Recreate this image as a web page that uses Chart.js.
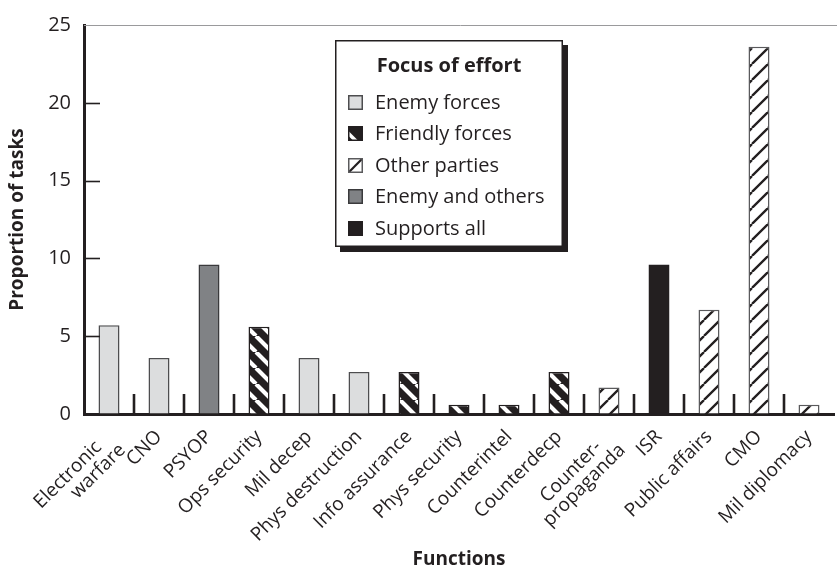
<!DOCTYPE html>
<html><head><meta charset="utf-8">
<script src="https://cdn.jsdelivr.net/npm/chart.js@4"></script>
<style>html,body{margin:0;padding:0;background:#fff}#wrap{width:837px;height:571px;position:relative}</style>
</head><body><div id="wrap"><canvas id="c"></canvas></div>
<script>
const categories = [["Electronic   ","warfare"],"CNO","PSYOP","Ops security","Mil decep","Phys destruction","Info assurance","Phys security","Counterintel","Counterdecp",["Counter-   ","propaganda"],"ISR","Public affairs","CMO","Mil diplomacy"];
const values = [5.7,3.6,9.6,5.6,3.6,2.7,2.7,0.6,0.6,2.7,1.7,9.6,6.7,23.6,0.6];
// focus group index of each function
const focus = [0,0,3,1,0,0,1,1,1,1,2,4,2,2,2];
const focusNames = ["Enemy forces","Friendly forces","Other parties","Enemy and others","Supports all"];
const legendTitle = "Focus of effort";
const yTicks = [0,5,10,15,20,25];

const INK = '#231f20';
const FONT = "'Open Sans', 'Noto Sans', sans-serif";

function hatch(bg, fg, dir, w){
  const s = 16, c = document.createElement('canvas');
  c.width = c.height = s;
  const g = c.getContext('2d');
  g.fillStyle = bg; g.fillRect(0,0,s,s);
  g.strokeStyle = fg; g.lineWidth = w; g.beginPath();
  for (let x = -s; x <= s; x += s){
    if (dir === '\\'){ g.moveTo(x,0); g.lineTo(x+s,s); }
    else { g.moveTo(x,s); g.lineTo(x+s,0); }
  }
  g.stroke();
  return g.createPattern(c,'repeat');
}
const fills = [
  '#dcddde',
  hatch(INK,'#ffffff','\\',4.2),
  hatch('#ffffff',INK,'/',2.3),
  '#808285',
  INK
];
const borders = ['#4d4d4f', INK, '#5a5a5c', '#3a3a3c', INK];

const decor = {
  id:'decor',
  afterDraw(chart){
    const {ctx, chartArea:a, scales:{x, y}} = chart;
    ctx.save();
    // top line
    ctx.strokeStyle = '#9a9a9c'; ctx.lineWidth = 1;
    ctx.beginPath(); ctx.moveTo(a.left, a.top+0.5); ctx.lineTo(chart.width, a.top+0.5); ctx.stroke();
    // inward y ticks
    ctx.strokeStyle = INK; ctx.lineWidth = 1.6;
    yTicks.forEach(v => { if (v>0 && v<25){ const py = Math.round(y.getPixelForValue(v))+0.5; ctx.beginPath(); ctx.moveTo(a.left, py); ctx.lineTo(a.left+16, py); ctx.stroke(); }});
    // category boundary ticks
    ctx.lineWidth = 2.6;
    for (let i=1;i<categories.length;i++){
      const px = (x.getPixelForValue(i-1)+x.getPixelForValue(i))/2;
      ctx.beginPath(); ctx.moveTo(px, a.bottom); ctx.lineTo(px, a.bottom-20); ctx.stroke();
    }
    // legend box
    const bx=335, by=40, bw=228, bh=207;
    ctx.fillStyle = INK; ctx.fillRect(bx+5, by+5, bw, bh);
    ctx.fillStyle = '#fff'; ctx.fillRect(bx, by, bw, bh);
    ctx.strokeStyle = INK; ctx.lineWidth = 1.5; ctx.strokeRect(bx+0.75, by+0.75, bw-1.5, bh-1.5);
    ctx.fillStyle = INK; ctx.textBaseline='middle';
    ctx.font = "bold 20px "+FONT; ctx.textAlign='center';
    ctx.fillText(legendTitle, 449, 66);
    ctx.font = "20px "+FONT; ctx.textAlign='left';
    focusNames.forEach((n,i)=>{
      const cy = 102 + i*31.5, sx=348, sy=Math.round(cy-7.5), s=15;
      ctx.save();
      ctx.beginPath(); ctx.rect(sx,sy,s,s); ctx.clip();
      if (i===1){ ctx.fillStyle=INK; ctx.fillRect(sx,sy,s,s); ctx.strokeStyle='#fff'; ctx.lineWidth=3.5; ctx.beginPath(); ctx.moveTo(sx-3,sy+4); ctx.lineTo(sx+s-4,sy+s+3); ctx.stroke(); }
      else if (i===2){ ctx.fillStyle='#fff'; ctx.fillRect(sx,sy,s,s); ctx.strokeStyle=INK; ctx.lineWidth=2.2; ctx.beginPath(); ctx.moveTo(sx,sy+s); ctx.lineTo(sx+s,sy); ctx.stroke(); }
      else { ctx.fillStyle = fills[i]; ctx.fillRect(sx,sy,s,s); }
      ctx.restore();
      ctx.strokeStyle = borders[i]; ctx.lineWidth=1.5; ctx.strokeRect(sx+0.75,sy+0.75,s-1.5,s-1.5);
      ctx.fillStyle = INK;
      ctx.fillText(n, 375, cy+1);
    });
    ctx.restore();
  }
};

new Chart(document.getElementById('c'), {
  type:'bar',
  data:{
    labels: categories,
    datasets:[{
      data: values,
      backgroundColor: focus.map(f=>fills[f]),
      borderColor: focus.map(f=>borders[f]),
      borderWidth: 1.5,
      borderSkipped: 'bottom',
      barPercentage: 0.42,
      categoryPercentage: 1
    }]
  },
  options:{
    responsive:true, maintainAspectRatio:false, animation:false,
    layout:{padding:{top:15, right:3, left:0, bottom:0}},
    plugins:{legend:{display:false}, tooltip:{enabled:false}},
    scales:{
      x:{
        grid:{display:true, drawOnChartArea:false, drawTicks:false},
        border:{display:true, color:INK, width:3},
        ticks:{autoSkip:false, minRotation:45, maxRotation:45, padding:13, labelOffset:0, color:INK, font:{family:FONT, size:19, lineHeight:1.0}},
        title:{display:true, text:'Functions', color:INK, font:{family:FONT, size:19, weight:'bold'}, padding:{top:0,bottom:0}},
        afterFit(s){ s.height = 157; }
      },
      y:{
        min:0, max:25,
        afterBuildTicks(s){ s.ticks = yTicks.map(v=>({value:v})); },
        grid:{display:true, drawOnChartArea:false, drawTicks:false},
        border:{display:true, color:INK, width:3},
        ticks:{padding:13, color:INK, font:{family:FONT, size:20}},
        title:{display:true, text:'Proportion of tasks', color:INK, font:{family:FONT, size:19, weight:'bold'}, padding:{top:6,bottom:0}},
        afterFit(s){ s.width = 84; }
      }
    }
  },
  plugins:[decor]
});
</script></body></html>
